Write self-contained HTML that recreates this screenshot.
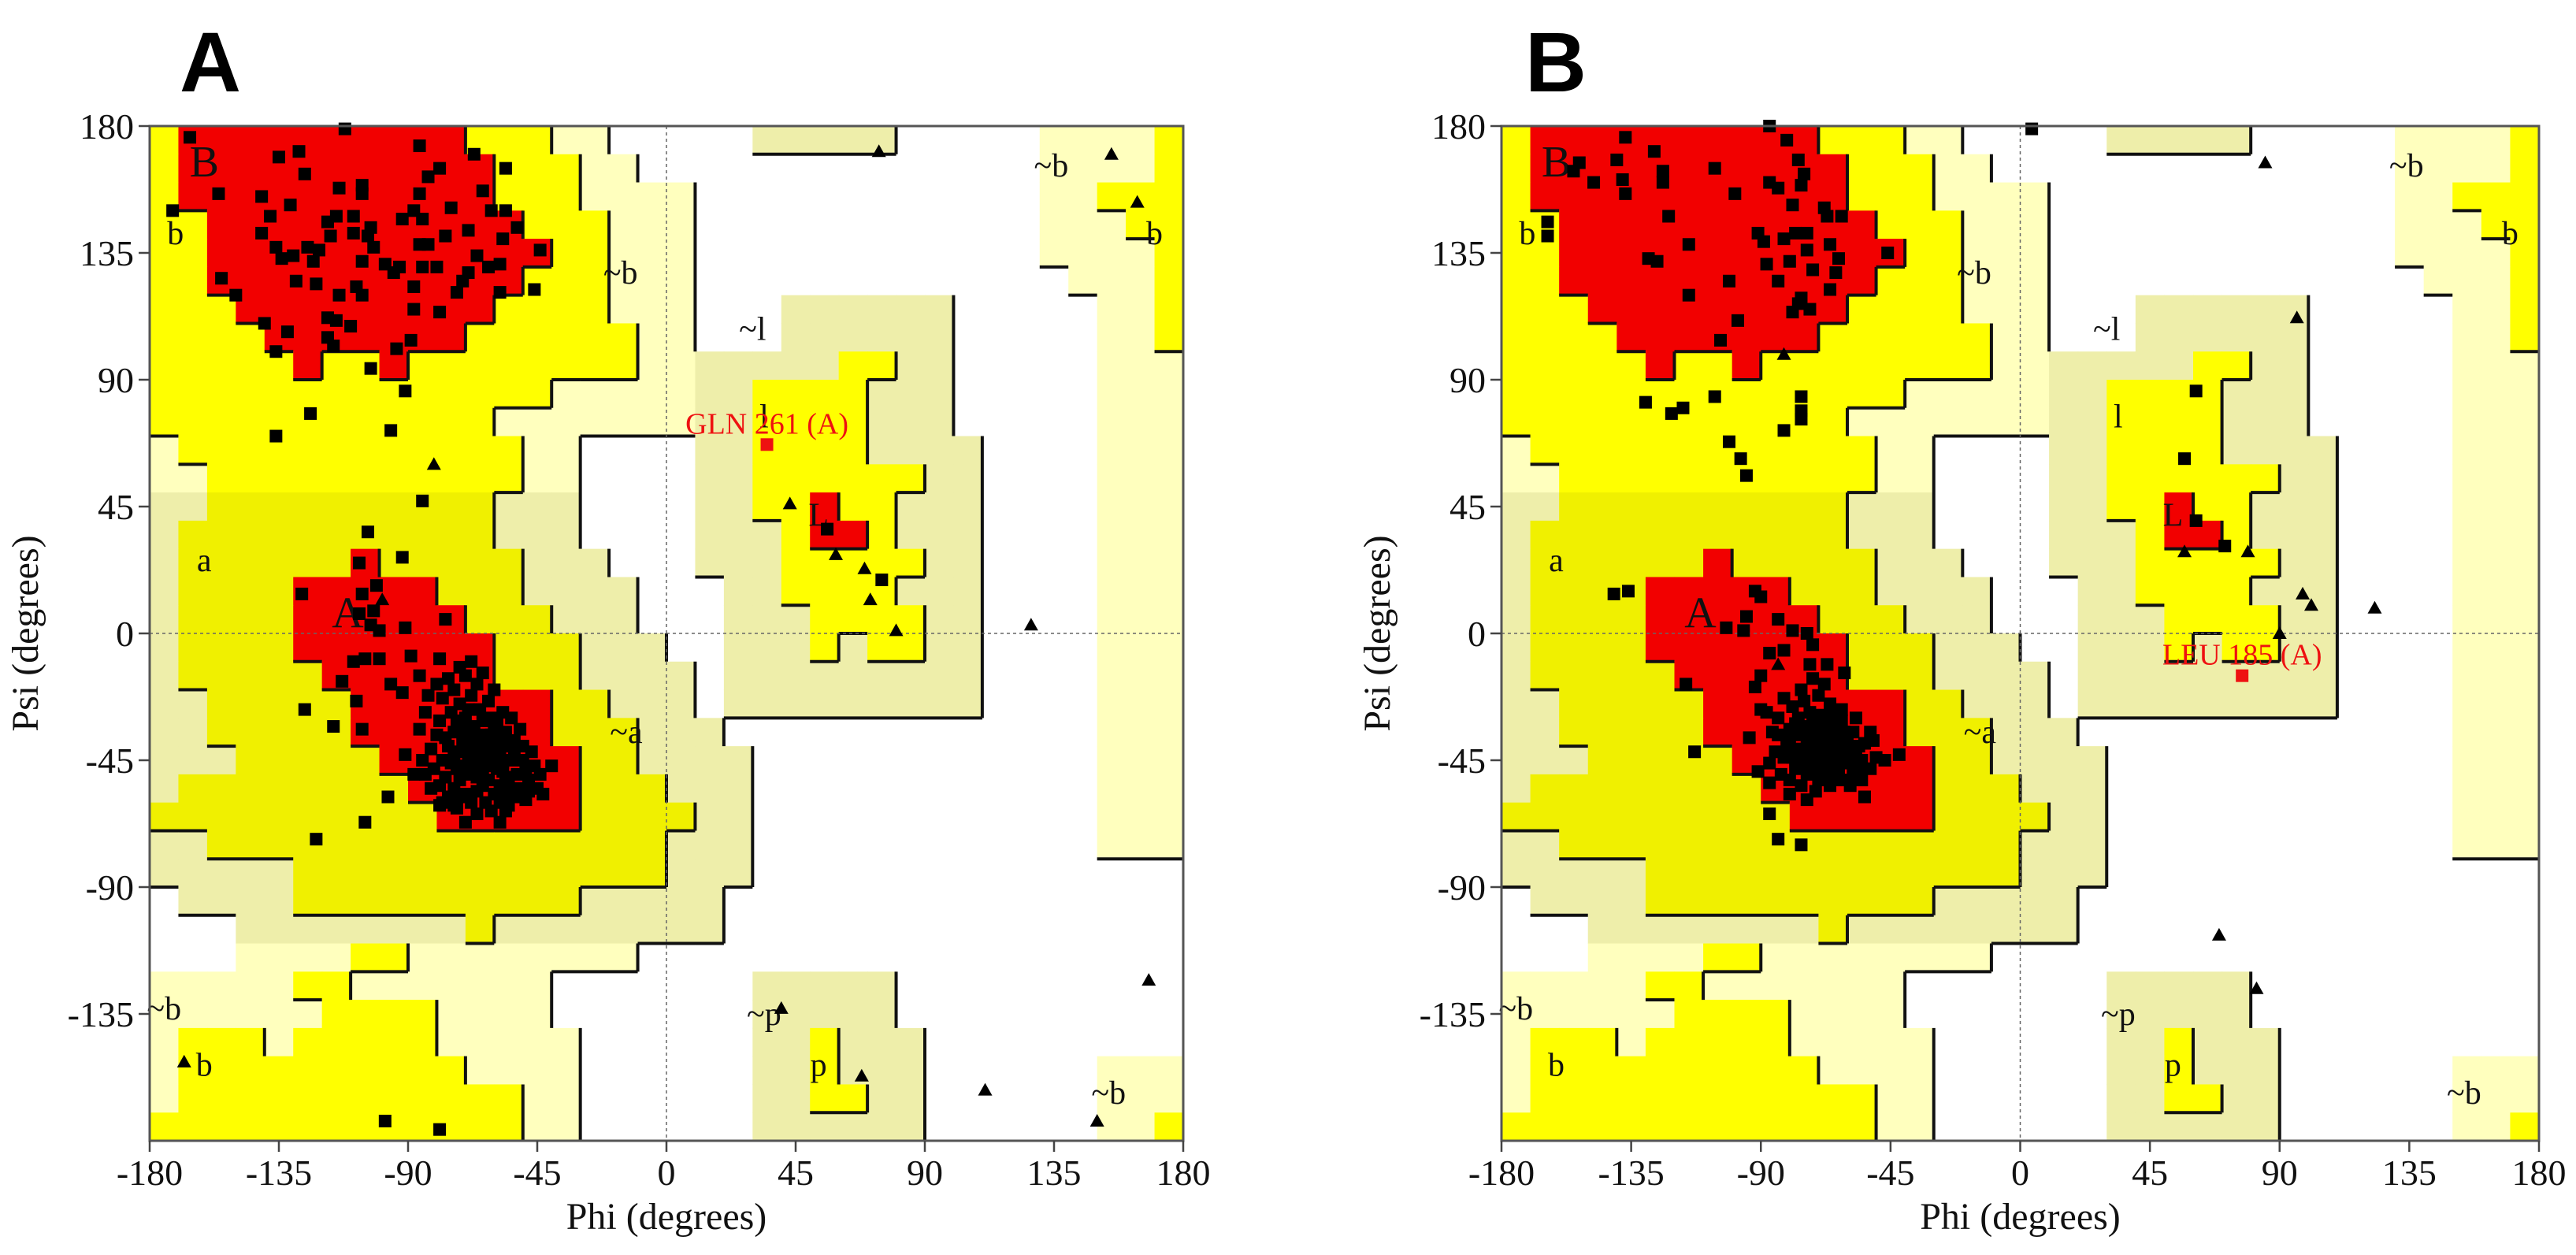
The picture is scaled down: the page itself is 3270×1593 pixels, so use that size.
<!DOCTYPE html>
<html><head><meta charset="utf-8"><style>
html,body{margin:0;padding:0;background:#fff;}
svg{display:block;}
text{font-family:"Liberation Serif",serif;}
</style></head><body>
<svg id="chart" width="3270" height="1593" viewBox="0 0 3270 1593" xmlns="http://www.w3.org/2000/svg">
<text x="228" y="116" style="font-family:'Liberation Sans',sans-serif;font-weight:bold;font-size:108px">A</text>
<text x="1936" y="116" style="font-family:'Liberation Sans',sans-serif;font-weight:bold;font-size:108px">B</text>
</svg>
<script>
// ---- data ----
const gridRows = [
"YRRRRRRRRRRYYYLLWW"+"WWWKKKKKWWWWWLLLLY",
"YRRRRRRRRRRRYYYLLW"+"WWWWWWWWWWWWWLLLLY",
"YRRRRRRRRRRRYYYLLL"+"LWWWWWWWWWWWWLLYYY",
"YYRRRRRRRRRRRYYYLL"+"LWWWWWWWWWWWWLLLYY",
"YYRRRRRRRRRRRRYYLL"+"LWWWWWWWWWWWWLLLLY",
"YYRRRRRRRRRRRYYYLL"+"LWWWWWWWWWWWWWLLLY",
"YYYRRRRRRRRRYYYYLL"+"LWWWKKKKKKWWWWWLLY",
"YYYYRRRRRRRYYYYYYL"+"LWWWKKKKKKWWWWWLLY",
"YYYYYRYYRYYYYYYYYL"+"LKKKKKYYKKWWWWWLLL",
"YYYYYYYYYYYYYYLLLL"+"LKKYYYYKKKWWWWWLLL",
"YYYYYYYYYYYYLLLLLL"+"LKKYYYYKKKWWWWWLLL",
"LYYYYYYYYYYYYLLWWW"+"WKKYYYYKKKKWWWWLLL",
"LLYYYYYYYYYYYLLWWW"+"WKKYYYYYYKKWWWWLLL",
"KKyyyyyyyyyyKKKWWW"+"WKKYYRYYKKKWWWWLLL",
"KyyyyyyyyyyyKKKWWW"+"WKKKYRRYKKKWWWWLLL",
"KyyyyyyRyyyyyKKKWW"+"WKKKYYYYYKKWWWWLLL",
"KyyyyRRRRRyyyKKKKW"+"WWKKYYYYKKKWWWWLLL",
"KyyyyRRRRRRyyyKKKW"+"WWKKKYYYYKKWWWWLLL",
"KyyyyRRRRRRRyyyKKK"+"WWKKKYKYYKKWWWWLLL",
"KyyyyyRRRRRRyyyKKK"+"KWKKKKKKKKKWWWWLLL",
"KKyyyyyRRRRRRRyyKK"+"KWKKKKKKKKKWWWWLLL",
"KKyyyyyRRRRRRRyyyK"+"KKWWWWWWWWWWWWWLLL",
"KKKyyyyyRRRRRRRyyK"+"KKKWWWWWWWWWWWWLLL",
"KyyyyyyyyRRRRRRyyy"+"KKKWWWWWWWWWWWWLLL",
"yyyyyyyyyyRRRRRyyy"+"yKKWWWWWWWWWWWWLLL",
"KKyyyyyyyyyyyyyyyy"+"KKKWWWWWWWWWWWWLLL",
"KKKKKyyyyyyyyyyyyy"+"KKKWWWWWWWWWWWWWWW",
"WKKKKyyyyyyyyyyKKK"+"KKWWWWWWWWWWWWWWWW",
"WWWKKKKKKKKyKKKKKK"+"KKWWWWWWWWWWWWWWWW",
"WWWLLLLYYLLLLLLLLW"+"WWWWWWWWWWWWWWWWWW",
"LLLLLYYLLLLLLLWWWW"+"WWWKKKKKWWWWWWWWWW",
"LLLLLLYYYYLLLLWWWW"+"WWWKKKKKWWWWWWWWWW",
"LYYYLYYYYYLLLLLWWW"+"WWWKKYKKKWWWWWWWWW",
"LYYYYYYYYYYLLLLWWW"+"WWWKKYKKKWWWWWWLLL",
"LYYYYYYYYYYYYLLWWW"+"WWWKKYYKKWWWWWWLLL",
"YYYYYYYYYYYYYLLWWW"+"WWWKKKKKKWWWWWWLLY"
];
const tickValues = [-180,-135,-90,-45,0,45,90,135,180];
const regionLabels = [["B",-161,166],["b",-171,142],["~b",-16,128],["a",-161,26],["A",-111,6],["~a",-14,-35],["~l",30,108],["l",34,77],["L",53,42],["~p",34,-135],["p",53,-153],["~b",-175,-133],["b",-161,-153],["~b",134,166],["b",170,142],["~b",154,-163]];

const aSquaresPhi = [-166,-112,-135,-128,-126,-86,-67,-79,-83,-56,-156,-141,-131,-114,-106,-106,-86,-64,-172,-138,-115,-118,-109,-88,-92,-85,-75,-61,-56,-141,-117,-109,-104,-103,-102,-69,-77,-86,-83,-57,-52,-44,-136,-134,-130,-125,-123,-121,-106,-98,-95,-93,-85,-80,-66,-62,-58,-69,-71,-155,-129,-122,-108,-106,-114,-88,-73,-58,-46,-150,-88,-79,-118,-115,-110,-140,-132,-118,-116,-136,-94,-89,-103,-91,-124,-96,-136,-85,-104,-92,-107,-127,-101,-106,-102,-107,-77,-91,-103,-100,
-109,-105,-100,-89,-79,-68,-113,-126,-116,-108,-106,-96,-92,-86,-91,-88,-97,-105,-122,-79,-74,-70,-58,-40,-43,-49,-56,-98,-79,56,75];
const aSquaresPsi = [176,179,169,171,163,173,170,165,162,165,156,155,152,158,159,156,156,157,150,148,148,146,148,150,147,147,151,150,150,142,141,142,141,144,137,143,141,138,138,140,144,136,137,133,134,137,132,136,132,131,128,130,130,130,134,130,131,128,125,126,125,124,123,120,120,123,121,121,122,120,115,114,112,111,109,110,107,105,102,100,101,104,94,86,78,72,70,47,36,27,25,14,17,14,8,7,5,2,3,1,
-10,-9,-9,-8,-9,-10,-17,-27,-33,-24,-34,-18,-21,-15,-43,-50,-58,-67,-73,-61,-61,-67,-67,-47,-57,-59,-63,-173,-176,37,19];
const aBlobPhi = [-66,-70,-62,-65,-68,-60,-63,-72,-58,-64,-67,-61,-70,-74,-76,-78,-73,-69,-62,-57,-55,-56,-59,-65,-68,-72,-75,-79,-80,-82,-77,-74,-70,-66,-60,-55,-52,-50,-53,-57,-62,-66,-70,-74,-78,-84,-86,-81,-76,-68,-63,-58,-53,-48,-47,-51,-54,-60,-64,-72,-76,-80,-83,-85,-79,-72,-66,-61,-57,-54,-59,-62,-67,-71,-73,-69,-64,-60,-65,-69,-71,-63,-59,-56,-49,-46,-45,-50,-55,-61,-66,-73,-78,-82,-84,-74,-77,-70,-67,-64,-58,-52,-48,-44,-50,-53,-56,-61,-64,-67,-63,-66,-60,-62,-68,-71,-58,-75,-72,-57];
const aBlobPsi = [-40,-38,-42,-45,-44,-39,-36,-42,-44,-48,-33,-30,-30,-35,-40,-45,-48,-50,-52,-49,-40,-35,-32,-27,-22,-25,-28,-31,-36,-41,-51,-55,-57,-56,-57,-54,-50,-45,-38,-28,-24,-18,-15,-20,-23,-28,-34,-48,-58,-60,-60,-60,-58,-52,-42,-34,-30,-20,-14,-12,-16,-18,-22,-45,-54,-52,-51,-47,-46,-45,-41,-38,-37,-34,-31,-27,-31,-34,-42,-46,-47,-45,-48,-51,-48,-47,-55,-58,-61,-63,-64,-62,-60,-55,-50,-44,-37,-41,-48,-54,-54,-55,-56,-50,-40,-42,-37,-36,-39,-41,-43,-47,-45,-40,-35,-38,-37,-46,-58,-58];
const aGlyPhi = [-81,-99,-168,74,155,164,43,59,69,71,80,127,40,68,111,168,150];
const aGlyPsi = [60,12,-152,171,170,153,46,28,23,12,1,3,-133,-157,-162,-123,-173];
const aRedPhi = [35];
const aRedPsi = [67];
const aRedLabels = ["GLN 261 (A)"];

const bSquaresPhi = [-87,-137,-81,-127,-140,-153,-155,-148,-138,-137,-124,-124,-106,-99,-87,-84,-77,-75,-76,-79,-68,-67,-62,-122,-164,-164,-115,-91,-89,-82,-78,-74,-74,-66,-63,-46,-129,-126,-88,-80,-72,-64,-84,-101,-115,-66,-76,-77,-79,-73,-98,-104,-130,-121,-117,-106,-76,-76,-76,-82,-101,-97,-95,-141,-136,-92,-90,-95,-102,-96,-84,-79,-74,-72,-87,-82,-73,-67,-61,-116,-90,-92,-90,-94,-113,-91,-87,-80,-74,-54,-47,-42,-52,-87,-84,-76,4,61,57,61,71];
const bSquaresPsi = [180,176,175,171,168,167,164,160,161,156,164,160,165,156,160,158,168,163,159,152,151,148,148,148,146,141,138,142,139,140,142,142,136,138,133,135,133,132,131,132,129,128,125,125,120,122,119,117,114,115,111,104,82,78,80,84,84,79,76,72,68,62,56,14,15,15,13,6,2,1,5,1,0,-4,-7,-6,-11,-11,-14,-18,-15,-19,-27,-37,-42,-49,-53,-57,-59,-58,-45,-43,-35,-64,-73,-75,179,86,62,40,31];
const bBlobPhi = [-70,-72,-68,-74,-66,-64,-70,-76,-62,-67,-73,-78,-80,-82,-78,-74,-70,-65,-61,-60,-58,-63,-66,-70,-75,-79,-84,-86,-85,-80,-76,-71,-66,-62,-58,-55,-54,-57,-62,-68,-72,-76,-82,-88,-87,-83,-73,-69,-64,-60,-57,-61,-65,-69,-72,-75,-77,-71,-67,-63,-59,-55,-52,-50,-51,-56,-68,-70,-66,-73,-79,-75,-72,-67,-64,-60,-58,-76,-81,-84,-69,-65,-62,-74,-71,-68,-63,-77,-80,-56];
const bBlobPsi = [-35,-38,-40,-42,-37,-42,-45,-36,-38,-30,-28,-32,-38,-44,-48,-50,-52,-48,-46,-40,-35,-32,-25,-22,-24,-26,-30,-35,-42,-52,-54,-56,-54,-52,-50,-45,-39,-30,-27,-18,-16,-20,-23,-28,-46,-50,-46,-48,-45,-44,-42,-35,-34,-33,-31,-33,-41,-41,-44,-50,-54,-52,-48,-44,-38,-48,-36,-39,-41,-35,-44,-47,-49,-51,-38,-37,-46,-44,-40,-36,-29,-28,-31,-39,-44,-47,-41,-30,-34,-40];
const bGlyPhi = [-82,-84,85,57,79,96,98,101,123,90,69,82];
const bGlyPsi = [99,-11,167,29,29,112,14,10,9,0,-107,-126];
const bRedPhi = [77];
const bRedPsi = [-15];
const bRedLabels = ["LEU 185 (A)"];

// ---- drawing ----
const NS = "http://www.w3.org/2000/svg";
const svg = document.getElementById('chart');
const colors = {R:"#f20000",Y:"#ffff00",y:"#f0f000",L:"#ffffbe",K:"#eeeeaa",W:"#ffffff"};
const level = {R:3,Y:2,y:2,L:1,K:1,W:0};
function mk(tag, attrs, parent){const e=document.createElementNS(NS,tag);for(const k in attrs)e.setAttribute(k,attrs[k]);(parent||svg).appendChild(e);return e;}

function drawPanel(id, x0, x1, y0, y1, sqPhi, sqPsi, blobPhi, blobPsi, glyPhi, glyPsi, redPhi, redPsi, redLabels){
  const g = mk('g',{});
  
  
  const xs = p => x0 + (p+180)/360*(x1-x0);
  const ys = p => y0 + (180-p)/360*(y1-y0);
  const regions = mk('g',{},g);
  
  
  for(let r=0;r<36;r++){
    for(let c=0;c<36;c++){
      const code = gridRows[r][c];
      if(code==='W') continue;
      const phi=-180+c*10, psi=180-r*10;
      const rc = mk('rect',{x:xs(phi),y:ys(psi),width:xs(phi+10)-xs(phi)+0.6,height:ys(psi-10)-ys(psi)+0.6,fill:colors[code]},regions);
      
      
    }
  }
  // boundaries
  let d='';
  for(let r=0;r<36;r++){
    for(let c=0;c<36;c++){
      const lv=level[gridRows[r][c]];
      const phi=-180+c*10, psi=180-r*10;
      if(c<35 && lv>level[gridRows[r][c+1]]) d+=`M${xs(phi+10)},${ys(psi)}V${ys(psi-10)}`;
      if(r<35 && lv>level[gridRows[r+1][c]]) d+=`M${xs(phi)},${ys(psi-10)}H${xs(phi+10)}`;
    }
  }
  const bl = mk('path',{d:d,stroke:'#111',"stroke-width":4,fill:'none'},g);
  
  
  // zero lines
  const z1 = mk('line',{x1:xs(0),x2:xs(0),y1:y0,y2:y1,stroke:'#666',"stroke-width":1.5,"stroke-dasharray":"4,4"},g);
  
  
  const z2 = mk('line',{x1:x0,x2:x1,y1:ys(0),y2:ys(0),stroke:'#666',"stroke-width":1.5,"stroke-dasharray":"4,4"},g);
  
  
  // region labels
  regionLabels.forEach(l=>{
    const t = mk('text',{x:xs(l[1]),y:ys(l[2])+14,"text-anchor":"middle","font-size":(l[0]==='A'||l[0]==='B')?56:42,fill:'#111'},g);
    t.textContent=l[0];
    
    
  });
  // points
  const pts = mk('g',{},g);
  
  
  const sq=(phi,psi,fill)=>{const s=8;const e=mk('rect',{x:xs(phi)-s,y:ys(psi)-s,width:2*s,height:2*s,fill:fill},pts);return e;};
  for(let i=0;i<sqPhi.length;i++){const e=sq(sqPhi[i],sqPsi[i],'#000');
    
    }
  for(let i=0;i<blobPhi.length;i++){const e=sq(blobPhi[i],blobPsi[i],'#000');
    
    }
  for(let i=0;i<glyPhi.length;i++){
    const cx=xs(glyPhi[i]), cy=ys(glyPsi[i]);
    const e=mk('polygon',{points:`${cx},${cy-9} ${cx+9},${cy+7} ${cx-9},${cy+7}`,fill:'#000'},pts);
    
    
  }
  for(let i=0;i<redPhi.length;i++){
    const e=sq(redPhi[i],redPsi[i],'#ee1111');
    
    
    const t=mk('text',{x:xs(redPhi[i]),y:ys(redPsi[i])-14,"text-anchor":"middle","font-size":38,fill:'#ee1111'},pts);
    t.textContent=redLabels[i];
    
    
  }
  // frame
  const fr=mk('rect',{x:x0,y:y0,width:x1-x0,height:y1-y0,fill:'none',stroke:'#555',"stroke-width":3},g);
  
  
  // ticks
  tickValues.forEach(v=>{
    const tx=mk('line',{x1:xs(v),x2:xs(v),y1:y1,y2:y1+14,stroke:'#444',"stroke-width":2.5},g);
    
    
    const lx=mk('text',{x:xs(v),y:y1+56,"text-anchor":"middle","font-size":46,fill:'#111'},g);
    lx.textContent=String(v);
    
    
    if(v>-180){
      const ty=mk('line',{x1:x0-14,x2:x0,y1:ys(v),y2:ys(v),stroke:'#444',"stroke-width":2.5},g);
      
      
      const ly=mk('text',{x:x0-20,y:ys(v)+16,"text-anchor":"end","font-size":46,fill:'#111'},g);
      ly.textContent=String(v);
      
      
    }
  });
  const xt=mk('text',{x:(x0+x1)/2,y:1560,"text-anchor":"middle","font-size":48,fill:'#111'},g);
  xt.textContent='Phi (degrees)';
  
  
  const yx=x0-142, yy=(y0+y1)/2;
  const yt=mk('text',{x:yx,y:yy,"text-anchor":"middle","font-size":48,fill:'#111',transform:`rotate(-90 ${yx} ${yy})`},g);
  yt.textContent='Psi (degrees)';
  
  
}
drawPanel('panel-a',190,1502,160,1448,aSquaresPhi,aSquaresPsi,aBlobPhi,aBlobPsi,aGlyPhi,aGlyPsi,aRedPhi,aRedPsi,aRedLabels);
drawPanel('panel-b',1906,3223,160,1448,bSquaresPhi,bSquaresPsi,bBlobPhi,bBlobPsi,bGlyPhi,bGlyPsi,bRedPhi,bRedPsi,bRedLabels);
</script>
</body></html>
